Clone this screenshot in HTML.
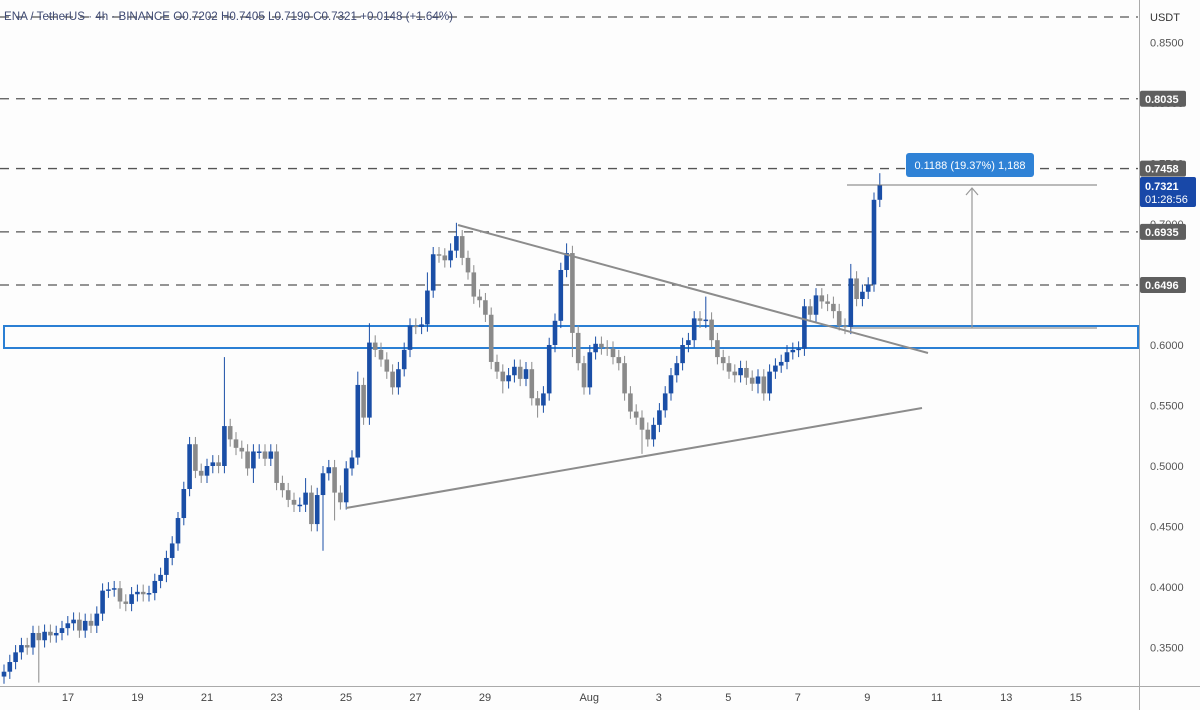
<!DOCTYPE html>
<html><head><meta charset="utf-8">
<style>
html,body{margin:0;padding:0;background:#fff;}
svg{display:block;font-family:"Liberation Sans",sans-serif;}
</style></head>
<body>
<svg id="chart" width="1200" height="710" viewBox="0 0 1200 710" xmlns="http://www.w3.org/2000/svg">
<rect x="0" y="0" width="1200" height="710" fill="#fdfdfd"/>
<g id="levels"></g>
<rect x="4" y="326" width="1134" height="22" fill="none" stroke="#2a7fd4" stroke-width="2"/>
<g id="candles"></g>
<line x1="458" y1="225" x2="928" y2="353" stroke="#8c8c8c" stroke-width="2"/>
<line x1="346" y1="508" x2="922" y2="408" stroke="#8c8c8c" stroke-width="2"/>
<g>
<line x1="847" y1="185" x2="1097" y2="185" stroke="#777" stroke-width="1"/>
<line x1="850" y1="328" x2="1097" y2="328" stroke="#777" stroke-width="1"/>
<line x1="972" y1="328" x2="972" y2="188" stroke="#999" stroke-width="1.2"/>
<polyline points="966,195 972,188 978,195" fill="none" stroke="#999" stroke-width="1.2"/>
<rect x="906" y="153" width="128" height="24" rx="3" fill="#2f82d6"/>
<text x="970" y="169" fill="#fff" font-size="11" text-anchor="middle">0.1188 (19.37%) 1,188</text>
</g>
<text x="4" y="20" fill="#3f4a73" font-size="11.6">ENA / TetherUS · 4h · BINANCE  O0.7202  H0.7405  L0.7190  C0.7321  +0.0148 (+1.64%)</text>
<line x1="1139.5" y1="0" x2="1139.5" y2="710" stroke="#aaa" stroke-width="1"/>
<line x1="0" y1="686.5" x2="1200" y2="686.5" stroke="#aaa" stroke-width="1"/>
<text x="1150" y="21" font-size="11" fill="#333">USDT</text>
<g id="yaxis"></g>
<g id="xaxis"></g>
<g id="tags"></g>
</svg>
<script>
const closes=[0.330,0.338,0.346,0.352,0.350,0.362,0.356,0.363,0.360,0.362,0.366,
0.370,0.373,0.364,0.372,0.368,0.378,
0.397,0.398,0.399,0.388,0.386,0.394,
0.396,0.394,0.395,0.405,0.410,0.424,
0.436,0.457,0.481,0.518,0.496,0.492,
0.500,0.503,0.500,0.533,0.522,0.515,
0.512,0.498,0.512,0.512,0.506,0.512,
0.486,0.480,0.472,0.468,0.468,0.478,
0.452,0.476,0.494,0.499,0.478,0.470,
0.498,0.507,0.567,0.540,0.602,0.596,
0.588,0.578,0.565,0.580,0.596,0.616,
0.615,0.617,0.645,0.675,0.674,0.670,
0.678,0.690,0.672,0.660,0.640,0.637,
0.625,0.586,0.578,0.570,0.575,0.582,
0.572,0.580,0.556,0.550,0.560,0.600,
0.620,0.662,0.676,0.610,0.585,0.565,
0.594,0.601,0.598,0.597,0.590,0.585,
0.560,0.545,0.540,0.530,0.522,0.534,
0.546,0.560,0.575,0.585,0.600,0.604,
0.622,0.620,0.621,0.604,0.590,0.585,
0.578,0.575,0.581,0.573,0.568,0.574,
0.560,0.578,0.583,0.586,0.594,0.596,
0.597,0.632,0.625,0.641,0.636,0.634,
0.628,0.616,0.615,0.655,0.638,0.644,
0.650,0.720,0.7321];
const firstOpen=0.326;
const highOverrides={6:0.368,30:0.462,38:0.590,52:0.490,61:0.578,63:0.618,73:0.660,78:0.701,79:0.695,97:0.684,121:0.640,146:0.667,151:0.742};
const lowOverrides={6:0.321,43:0.486,55:0.430,57:0.455,86:0.560,92:0.540,98:0.590,110:0.510,130:0.560,144:0.612};
const wickSize=0.006;
const priceTicks=[0.85,0.80,0.75,0.70,0.65,0.60,0.55,0.50,0.45,0.40,0.35];
const dayLabels=["17","19","21","23","25","27","29","Aug","3","5","7","9","11","13","15"];
const dayOffsets=[0,2,4,6,8,10,12,15,17,19,21,23,25,27,29];
const levelPrices=[0.8035,0.7458,0.6935,0.6496];
const NS="http://www.w3.org/2000/svg";
function y(p){return 345-(p-0.6)*1210;}
function xc(i){return 4+i*5.8;}
function xd(d){return 68+d*34.75;}
function mk(t,a,parent){const e=document.createElementNS(NS,t);for(const k in a)e.setAttribute(k,a[k]);parent.appendChild(e);return e;}
const lv=document.getElementById('levels');
const topLine=mk('line',{x1:0,y1:17,x2:1138,y2:17,stroke:'#555','stroke-width':1.3,'stroke-dasharray':'9 7'},lv);


levelPrices.forEach(p=>{const l=mk('line',{x1:0,y1:y(p),x2:1138,y2:y(p),stroke:'#555','stroke-width':1.3,'stroke-dasharray':'9 7'},lv);

});
const cg=document.getElementById('candles');
closes.forEach((c,i)=>{const o=i===0?firstOpen:closes[i-1];
const hi=highOverrides[i]!==undefined?highOverrides[i]:Math.max(o,c)+wickSize;
const lo=lowOverrides[i]!==undefined?lowOverrides[i]:Math.min(o,c)-wickSize;
const col=c>=o?'#1a4ea6':'#8a8a8a';const x=xc(i);
const g=mk('g',{},cg);


mk('line',{x1:x,y1:y(hi),x2:x,y2:y(lo),stroke:col,'stroke-width':1},g);
const t=y(Math.max(o,c)),b=y(Math.min(o,c));
mk('rect',{x:x-2.3,y:t,width:4.6,height:Math.max(1.5,b-t),fill:col},g);});
const ya=document.getElementById('yaxis');
priceTicks.forEach(p=>{const t=mk('text',{x:1150,y:y(p)+4,'font-size':11,fill:'#555'},ya);t.textContent=p.toFixed(4);

});
const xa=document.getElementById('xaxis');
dayLabels.forEach((d,i)=>{const t=mk('text',{x:xd(dayOffsets[i]),y:701,'font-size':11,fill:'#444','text-anchor':'middle'},xa);t.textContent=d;

});
const tg=document.getElementById('tags');
levelPrices.forEach(p=>{const g=mk('g',{},tg);


mk('rect',{x:1140,y:y(p)-8,width:46,height:16,rx:2,fill:'#5f5f5f'},g);
const t=mk('text',{x:1145,y:y(p)+4,'font-size':11,fill:'#fff','font-weight':'bold'},g);t.textContent=p.toFixed(4);});
const cur=mk('g',{},tg);


mk('rect',{x:1140,y:177,width:56,height:30,rx:2,fill:'#1848a8'},cur);
const t1=mk('text',{x:1145,y:190,'font-size':11,fill:'#fff','font-weight':'bold'},cur);t1.textContent=closes[closes.length-1].toFixed(4);
const t2=mk('text',{x:1145,y:203,'font-size':11,fill:'#fff'},cur);t2.textContent='01:28:56';
</script>
</body></html>
